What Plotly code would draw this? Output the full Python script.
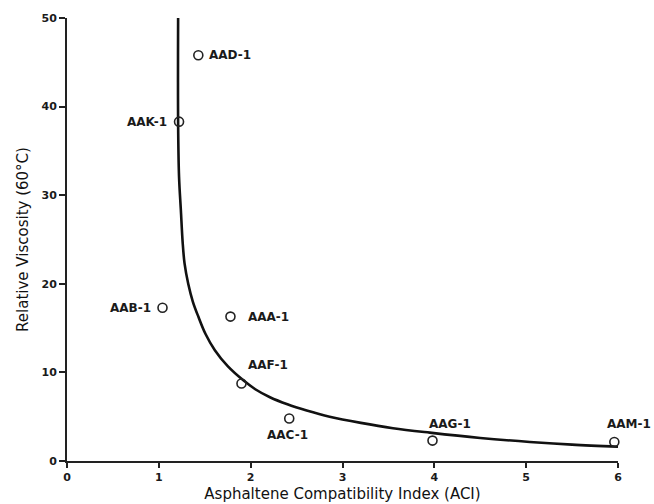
import plotly.graph_objects as go

# ---- data ----
sample_names = ["AAD-1", "AAK-1", "AAB-1", "AAA-1", "AAF-1", "AAC-1", "AAG-1", "AAM-1"]
aci_values = [1.43, 1.22, 1.04, 1.78, 1.90, 2.42, 3.98, 5.96]
viscosity_values = [45.8, 38.3, 17.3, 16.3, 8.75, 4.8, 2.3, 2.15]

curve_x = [1.21, 1.21, 1.22, 1.24, 1.26, 1.28, 1.32, 1.37, 1.43, 1.51, 1.61, 1.75, 1.92, 2.05, 2.21,
           2.40, 2.61, 2.86, 3.20, 3.55, 3.95, 4.50, 5.04, 5.50, 6.00]
curve_y = [50.0, 38.1, 32.1, 28.3, 24.6, 22.3, 20.0, 18.0, 16.3, 14.3, 12.5, 10.7, 9.1, 8.1, 7.2,
           6.4, 5.7, 5.0, 4.3, 3.7, 3.2, 2.6, 2.15, 1.85, 1.6]

x_ticks = [0, 1, 2, 3, 4, 5, 6]
y_ticks = [0, 10, 20, 30, 40, 50]

# ---- label placement (pixel offsets, style only) ----
label_style = {
    "AAD-1": dict(xanchor="left", xshift=9, yshift=0),
    "AAK-1": dict(xanchor="right", xshift=-10, yshift=0),
    "AAB-1": dict(xanchor="right", xshift=-10, yshift=0),
    "AAA-1": dict(xanchor="left", xshift=16, yshift=0),
    "AAF-1": dict(xanchor="left", xshift=5, yshift=18),
    "AAC-1": dict(xanchor="center", xshift=-2, yshift=-17),
    "AAG-1": dict(xanchor="left", xshift=-6, yshift=17),
    "AAM-1": dict(xanchor="right", xshift=39, yshift=18),
}

FONT = "DejaVu Sans"

fig = go.Figure()

fig.add_trace(go.Scatter(
    x=curve_x, y=curve_y, mode="lines",
    line=dict(color="#111111", width=2.6, shape="spline", smoothing=1.0),
    hoverinfo="skip", showlegend=False, cliponaxis=False,
))

fig.add_trace(go.Scatter(
    x=aci_values, y=viscosity_values, mode="markers",
    marker=dict(symbol="circle-open", size=9, color="#222222", line=dict(width=1.6, color="#222222")),
    text=sample_names, showlegend=False, cliponaxis=False,
))

annotations = []
for name, xv, yv in zip(sample_names, aci_values, viscosity_values):
    st = label_style[name]
    annotations.append(dict(
        x=xv, y=yv, xref="x", yref="y", text=name, showarrow=False,
        xanchor=st["xanchor"], yanchor="middle", xshift=st["xshift"], yshift=st["yshift"],
        font=dict(family=FONT, size=12, color="#1a1a1a", weight="bold"),
    ))

fig.update_layout(
    width=654, height=504,
    margin=dict(l=67, r=36, t=18, b=43, autoexpand=False),
    paper_bgcolor="white", plot_bgcolor="white",
    annotations=annotations,
    font=dict(family=FONT, color="#1a1a1a"),
)

fig.update_xaxes(
    range=[0, 6], tickvals=x_ticks, ticktext=[str(v) for v in x_ticks],
    showgrid=False, zeroline=False,
    showline=True, linecolor="#222222", linewidth=2,
    ticks="outside", ticklen=5, tickwidth=1.6, tickcolor="#222222",
    tickfont=dict(family=FONT, size=11, color="#1a1a1a", weight="bold"),
    title=dict(text="Asphaltene Compatibility Index (ACI)", standoff=5,
               font=dict(family=FONT, size=15, color="#111111")),
    automargin=False,
)

fig.update_yaxes(
    range=[0, 50], tickvals=y_ticks, ticktext=[str(v) for v in y_ticks],
    showgrid=False, zeroline=False,
    showline=True, linecolor="#222222", linewidth=2,
    ticks="outside", ticklen=6, tickwidth=1.6, tickcolor="#222222",
    tickfont=dict(family=FONT, size=11, color="#1a1a1a", weight="bold"),
    title=dict(text="Relative Viscosity (60°C)", standoff=9,
               font=dict(family=FONT, size=15, color="#111111")),
    automargin=False,
)

fig.write_html("out.html")
